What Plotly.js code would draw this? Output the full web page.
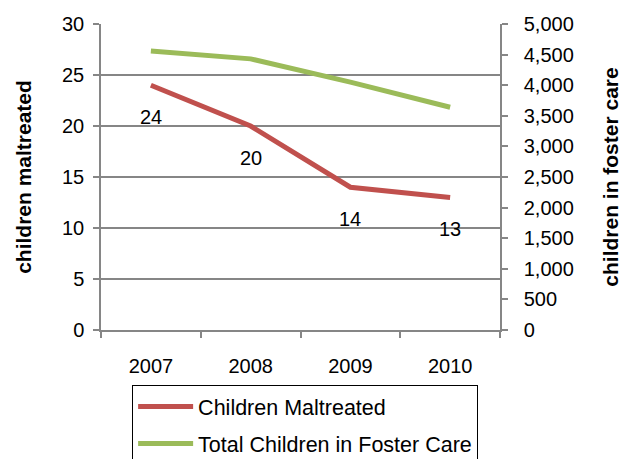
<!DOCTYPE html>
<html>
<head>
<meta charset="utf-8">
<script src="https://cdn.plot.ly/plotly-3.0.1.min.js"></script>
<style>
  body { margin: 0; background: #fff; }
  #chart { width: 629px; height: 459px; }
</style>
</head>
<body>
<div id="chart"></div>
<script>
var years = ['2007', '2008', '2009', '2010']
var maltreated = [24, 20, 14, 13]
var fosterCare = [4560, 4430, 4050, 3640]

var axisGray = '#868686'
var font = 'Liberation Sans, Arial, sans-serif'

var trace1 = {
    x: years,
    y: maltreated,
    name: 'Children Maltreated',
    legendgroup: 'a',
    type: 'scatter',
    mode: 'lines',
    line: { color: '#C0504D', width: 5 },
    yaxis: 'y'
};

var trace2 = {
    x: years,
    y: fosterCare,
    name: 'Total Children in Foster Care',
    legendgroup: 'b',
    type: 'scatter',
    mode: 'lines',
    line: { color: '#9BBB59', width: 5 },
    yaxis: 'y2'
};

// value labels sit below each red point (x given as category index)
var labels = maltreated.map(function (v, i) {
    return {
        x: i,
        y: v,
        xref: 'x',
        yref: 'y',
        text: String(v),
        showarrow: false,
        yshift: -32,
        font: { family: font, size: 20, color: '#000' }
    }
})

var layout = {
    width: 629,
    height: 459,
    margin: { t: 24, l: 101, r: 129, b: 129, pad: 0, autoexpand: false },
    paper_bgcolor: '#fff',
    plot_bgcolor: '#fff',
    font: { family: font, size: 20, color: '#000' },
    showlegend: true,
    xaxis: {
        type: 'category',
        range: [-0.5, 3.5],
        showgrid: false,
        showline: true,
        linecolor: axisGray,
        linewidth: 1.5,
        ticks: 'outside',
        tickson: 'boundaries',
        ticklen: 6,
        tickcolor: axisGray,
        tickwidth: 1.5,
        ticklabelstandoff: 17,
        tickfont: { size: 20 }
    },
    yaxis: {
        range: [0, 30],
        dtick: 5,
        showgrid: true,
        gridcolor: axisGray,
        gridwidth: 1.5,
        zeroline: false,
        showline: true,
        linecolor: axisGray,
        linewidth: 1.5,
        ticks: 'outside',
        ticklen: 6,
        tickcolor: axisGray,
        tickwidth: 1.5,
        ticklabelstandoff: 5,
        tickfont: { size: 20 },
        title: {
            text: '<b>children maltreated</b>',
            font: { size: 21 },
            standoff: 25
        }
    },
    yaxis2: {
        overlaying: 'y',
        side: 'right',
        range: [0, 5000],
        dtick: 500,
        tickformat: ',d',
        showgrid: false,
        zeroline: false,
        showline: true,
        linecolor: axisGray,
        linewidth: 1.5,
        ticks: 'outside',
        ticklen: 6,
        tickcolor: axisGray,
        tickwidth: 1.5,
        ticklabelstandoff: 12,
        tickfont: { size: 20 },
        title: {
            text: '<b>children in foster care</b>',
            font: { size: 21 },
            standoff: 30
        }
    },
    legend: {
        x: 0.078,
        xanchor: 'left',
        y: -0.18,
        yanchor: 'top',
        orientation: 'v',
        traceorder: 'grouped',
        tracegroupgap: 6,
        bordercolor: '#000',
        borderwidth: 1,
        itemwidth: 55,
        font: { size: 21.5 }
    },
    annotations: labels
};

Plotly.newPlot('chart', [trace1, trace2], layout, {displayModeBar: false, showTips: false});
</script>
</body>
</html>
